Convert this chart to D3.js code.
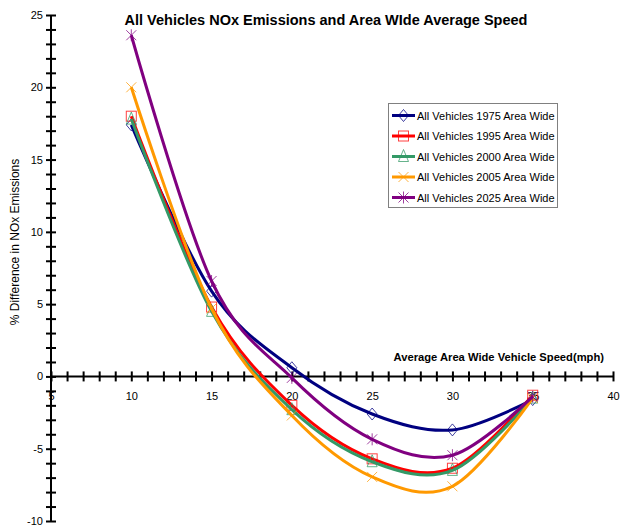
<!DOCTYPE html>
<html>
<head>
<meta charset="utf-8">
<script src="https://cdn.jsdelivr.net/npm/d3@7"></script>
<style>
  html, body { margin: 0; padding: 0; background: #fff; }
  svg { display: block; font-family: "Liberation Sans", Arial, sans-serif; }
</style>
</head>
<body>
<svg id="chart" width="627" height="527"></svg>
<script>
// ---- data ----
const speeds = [10, 15, 20, 25, 30, 35];
const seriesNames = [
  "All Vehicles 1975 Area Wide",
  "All Vehicles 1995 Area Wide",
  "All Vehicles 2000 Area Wide",
  "All Vehicles 2005 Area Wide",
  "All Vehicles 2025 Area Wide"
];
const v1975 = [17.4, 5.9, 0.6, -2.6, -3.7, -1.6];
const v1995 = [18.0, 4.8, -2.0, -5.7, -6.35, -1.3];
const v2000 = [17.8, 4.5, -2.3, -5.9, -6.5, -1.5];
const v2005 = [20.0, 4.7, -2.7, -6.95, -7.6, -1.5];
const v2025 = [23.6, 6.6, -0.1, -4.35, -5.45, -1.4];
const seriesValues = [v1975, v1995, v2000, v2005, v2025];
const seriesColors = ["#000080", "#ff0000", "#339966", "#ff9900", "#800080"];
const seriesMarkers = ["diamond", "square", "triangle", "x", "star"];
const xTickLabels = [5, 10, 15, 20, 25, 30, 35, 40];
const yTickLabels = [-10, -5, 0, 5, 10, 15, 20, 25];
const titleText = "All Vehicles NOx Emissions and Area WIde Average Speed";
const xTitle = "Average Area Wide Vehicle Speed(mph)";
const yTitle = "% Difference in NOx Emissions";

// ---- layout ----
const svg = d3.select("#chart");
const x = d3.scaleLinear().domain([5, 40]).range([51, 613]);
const y = d3.scaleLinear().domain([-10, 25]).range([521, 15]);

// title
svg.append("text")
  .attr("x", 326).attr("y", 25)
  .attr("text-anchor", "middle")
  .attr("font-size", 14.5).attr("font-weight", "bold")
  .text(titleText);

// y axis title
svg.append("text")
  .attr("transform", `translate(19,${242}) rotate(-90)`)
  .attr("text-anchor", "middle")
  .attr("font-size", 12)
  .text(yTitle);

// x axis title
svg.append("text")
  .attr("x", 604).attr("y", 361)
  .attr("text-anchor", "end")
  .attr("font-size", 11.2).attr("font-weight", "bold")
  .text(xTitle);

// x axis (at y = 0)
const xAxis = d3.axisBottom(x)
  .tickValues(d3.range(5, 41, 1))
  .tickSize(5)
  .tickFormat(d => xTickLabels.includes(d) ? d : "");
const gx = svg.append("g")
  .attr("transform", `translate(0,${y(0)})`)
  .call(xAxis);
gx.select(".domain").attr("stroke", "#000").attr("stroke-width", 2).attr("d", `M${x(5)},0H${x(40)}`);
gx.selectAll(".tick line").attr("y1", -5).attr("y2", 5).attr("stroke", "#000").attr("stroke-width", 2);
gx.selectAll(".tick text").attr("y", 16).attr("font-size", 11).attr("font-family", "Liberation Sans, Arial, sans-serif").attr("fill", "#000");

// y axis
const yAxis = d3.axisLeft(y)
  .tickValues(d3.range(-10, 26, 1))
  .tickSize(5)
  .tickFormat(d => yTickLabels.includes(d) ? d : "");
const gy = svg.append("g")
  .attr("transform", `translate(${x(5)},0)`)
  .call(yAxis);
gy.select(".domain").attr("stroke", "#000").attr("stroke-width", 2).attr("d", `M0,${y(-10)}V${y(25)}`);
gy.selectAll(".tick line").attr("x1", -5).attr("x2", 5).attr("stroke", "#000").attr("stroke-width", 2);
gy.selectAll(".tick text").attr("x", -8).attr("font-size", 11).attr("font-family", "Liberation Sans, Arial, sans-serif").attr("fill", "#000");

// marker drawing
function drawMarker(g, type, color, cx, cy) {
  const s = 5;
  const common = sel => sel.attr("fill", "none").attr("stroke", color).attr("stroke-width", 1).attr("stroke-opacity", 0.75);
  if (type === "diamond") {
    common(g.append("path").attr("d", `M${cx},${cy - 6}L${cx + 5},${cy}L${cx},${cy + 6}L${cx - 5},${cy}Z`));
  } else if (type === "square") {
    common(g.append("rect").attr("x", cx - s).attr("y", cy - s).attr("width", 2 * s).attr("height", 2 * s));
  } else if (type === "triangle") {
    common(g.append("path").attr("d", `M${cx},${cy - 7}L${cx + 5},${cy + 5}L${cx - 5},${cy + 5}Z`));
  } else if (type === "x") {
    common(g.append("path").attr("d", `M${cx - 5},${cy - 5}L${cx + 5},${cy + 5}M${cx + 5},${cy - 5}L${cx - 5},${cy + 5}`));
  } else if (type === "star") {
    common(g.append("path").attr("d", `M${cx - 5},${cy - 5}L${cx + 5},${cy + 5}M${cx + 5},${cy - 5}L${cx - 5},${cy + 5}M${cx},${cy - 6}L${cx},${cy + 6}`));
  }
}

// series
const line = d3.line()
  .x((d, i) => x(speeds[i]))
  .y(d => y(d))
  .curve(d3.curveCardinal.tension(0));

seriesValues.forEach((vals, si) => {
  const g = svg.append("g");
  g.append("path")
    .attr("d", line(vals))
    .attr("fill", "none")
    .attr("stroke", seriesColors[si])
    .attr("stroke-width", 3)
    .attr("stroke-linejoin", "round");
  vals.forEach((v, i) => drawMarker(g, seriesMarkers[si], seriesColors[si], x(speeds[i]), y(v)));
});

// legend
const lg = svg.append("g");
lg.append("rect")
  .attr("x", 388.5).attr("y", 103.5)
  .attr("width", 169).attr("height", 104)
  .attr("fill", "#fff").attr("stroke", "#808080").attr("stroke-width", 1);
seriesNames.forEach((name, i) => {
  const yy = 115.5 + i * 20.5;
  lg.append("line")
    .attr("x1", 392).attr("x2", 415).attr("y1", yy).attr("y2", yy)
    .attr("stroke", seriesColors[i]).attr("stroke-width", 3);
  drawMarker(lg, seriesMarkers[i], seriesColors[i], 403.5, yy);
  lg.append("text")
    .attr("x", 417).attr("y", yy + 4)
    .attr("font-size", 11)
    .text(name);
});
</script>
</body>
</html>
